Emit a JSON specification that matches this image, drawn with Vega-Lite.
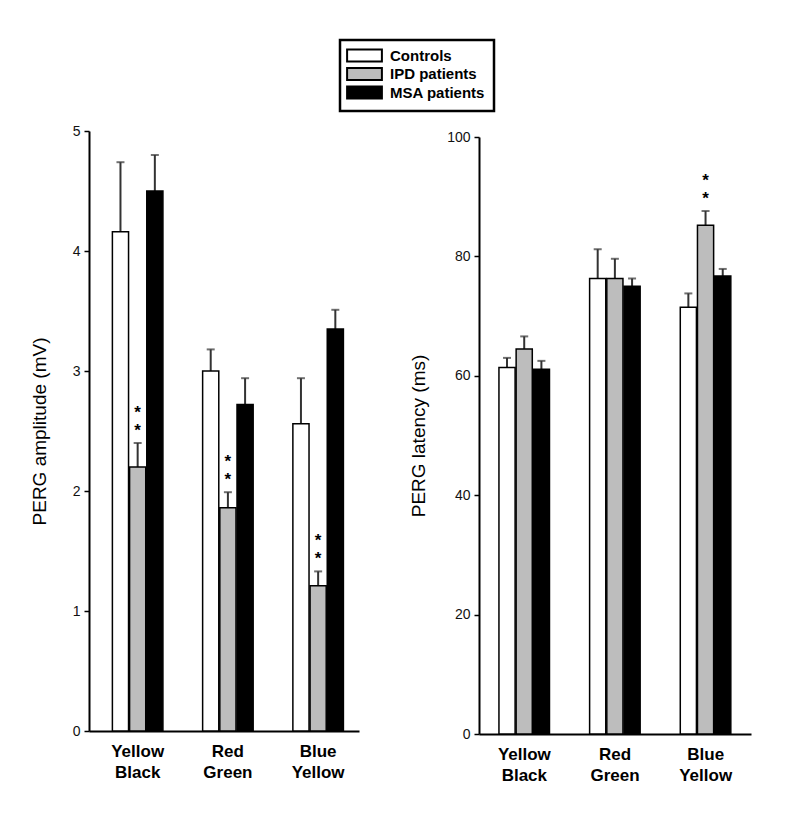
{
  "$schema": "https://vega.github.io/schema/vega-lite/v6.json",
  "padding": {"left": 30, "top": 38, "right": 10, "bottom": 10},
  "background": "white",
  "spacing": 50,
  "datasets": {
    "amp": [
      {"cond": "Yellow Black", "group": "Controls", "value": 4.16, "err": 4.74, "sig": ""},
      {"cond": "Yellow Black", "group": "IPD patients", "value": 2.2, "err": 2.4, "sig": "*"},
      {"cond": "Yellow Black", "group": "MSA patients", "value": 4.5, "err": 4.8, "sig": ""},
      {"cond": "Red Green", "group": "Controls", "value": 3.0, "err": 3.18, "sig": ""},
      {"cond": "Red Green", "group": "IPD patients", "value": 1.86, "err": 1.99, "sig": "*"},
      {"cond": "Red Green", "group": "MSA patients", "value": 2.72, "err": 2.94, "sig": ""},
      {"cond": "Blue Yellow", "group": "Controls", "value": 2.56, "err": 2.94, "sig": ""},
      {"cond": "Blue Yellow", "group": "IPD patients", "value": 1.21, "err": 1.33, "sig": "*"},
      {"cond": "Blue Yellow", "group": "MSA patients", "value": 3.35, "err": 3.51, "sig": ""}
    ],
    "lat": [
      {"cond": "Yellow Black", "group": "Controls", "value": 61.4, "err": 63.0, "sig": ""},
      {"cond": "Yellow Black", "group": "IPD patients", "value": 64.5, "err": 66.6, "sig": ""},
      {"cond": "Yellow Black", "group": "MSA patients", "value": 61.1, "err": 62.5, "sig": ""},
      {"cond": "Red Green", "group": "Controls", "value": 76.3, "err": 81.2, "sig": ""},
      {"cond": "Red Green", "group": "IPD patients", "value": 76.3, "err": 79.6, "sig": ""},
      {"cond": "Red Green", "group": "MSA patients", "value": 75.0, "err": 76.3, "sig": ""},
      {"cond": "Blue Yellow", "group": "Controls", "value": 71.5, "err": 73.8, "sig": ""},
      {"cond": "Blue Yellow", "group": "IPD patients", "value": 85.2, "err": 87.6, "sig": "*"},
      {"cond": "Blue Yellow", "group": "MSA patients", "value": 76.7, "err": 77.9, "sig": ""}
    ]
  },
  "config": {
    "font": "Liberation Sans",
    "view": {"stroke": null},
    "axis": {
      "grid": false,
      "domainColor": "black",
      "domainWidth": 2,
      "tickColor": "black",
      "tickWidth": 1.5,
      "tickSize": 5,
      "labelFont": "Liberation Sans",
      "labelColor": "#111",
      "titleFont": "Liberation Sans",
      "titleFontWeight": "normal",
      "titleColor": "black"
    },
    "legend": {"strokeWidth": 2.5}
  },
  "hconcat": [
    {
      "width": 270,
      "height": 600,
      "data": {"name": "amp"},
      "encoding": {
        "x": {
          "field": "cond", "type": "nominal",
          "sort": ["Yellow Black", "Red Green", "Blue Yellow"],
          "scale": {"paddingInner": 0.44, "paddingOuter": 0.216, "align": 0.6},
          "axis": {"title": null, "labelExpr": "split(datum.label, ' ')", "labelFontWeight": "bold", "labelFontSize": 17, "labelAngle": 0, "ticks": false, "labelPadding": 12, "labelLineHeight": 21, "labelColor": "black"}
        },
        "xOffset": {"field": "group", "type": "nominal", "sort": ["Controls", "IPD patients", "MSA patients"], "scale": {"paddingInner": 0.06}}
      },
      "layer": [
        {
          "mark": {"type": "rule", "color": "#333", "strokeWidth": 2},
          "encoding": {"y": {"field": "value", "type": "quantitative"}, "y2": {"field": "err"}}
        },
        {
          "mark": {"type": "bar", "stroke": "black", "strokeWidth": 1.5},
          "encoding": {
            "y": {"field": "value", "type": "quantitative", "scale": {"domain": [0, 5]},
              "axis": {"title": "PERG amplitude (mV)", "titleFontSize": 19, "titlePadding": 23, "labelFontSize": 14, "labelPadding": 4, "format": "d", "values": [0, 1, 2, 3, 4, 5]}},
            "color": {
              "field": "group", "type": "nominal",
              "scale": {"domain": ["Controls", "IPD patients", "MSA patients"], "range": ["white", "#bdbdbd", "black"]},
              "legend": {"title": null, "orient": "none", "legendX": 251, "legendY": -91, "direction": "vertical",
                "labelFontSize": 15, "labelFontWeight": "bold", "labelColor": "black", "labelFont": "Liberation Sans",
                "symbolType": "M-2.9,-1H2.9V1H-2.9Z", "symbolSize": 144, "symbolStrokeColor": "black", "symbolStrokeWidth": 2,
                "symbolOffset": 9,
                "strokeColor": "black", "fillColor": "white", "padding": 8, "rowPadding": -2.5, "labelOffset": 18}
            }
          }
        },
        {
          "mark": {"type": "tick", "color": "#333", "thickness": 2, "size": 8},
          "encoding": {"y": {"field": "err", "type": "quantitative"}}
        },
        {
          "transform": [{"filter": "datum.sig != ''"}],
          "mark": {"type": "text", "fontSize": 17, "fontWeight": "bold", "baseline": "middle", "dy": -12, "color": "black"},
          "encoding": {"y": {"field": "err", "type": "quantitative"}, "text": {"field": "sig"}}
        },
        {
          "transform": [{"filter": "datum.sig != ''"}],
          "mark": {"type": "text", "fontSize": 17, "fontWeight": "bold", "baseline": "middle", "dy": -30, "color": "black"},
          "encoding": {"y": {"field": "err", "type": "quantitative"}, "text": {"field": "sig"}}
        }
      ]
    },
    {
      "width": 272,
      "height": 603,
      "data": {"name": "lat"},
      "encoding": {
        "x": {
          "field": "cond", "type": "nominal",
          "sort": ["Yellow Black", "Red Green", "Blue Yellow"],
          "scale": {"paddingInner": 0.44, "paddingOuter": 0.22},
          "axis": {"title": null, "labelExpr": "split(datum.label, ' ')", "labelFontWeight": "bold", "labelFontSize": 17, "labelAngle": 0, "ticks": false, "labelPadding": 12, "labelLineHeight": 21, "labelColor": "black"}
        },
        "xOffset": {"field": "group", "type": "nominal", "sort": ["Controls", "IPD patients", "MSA patients"], "scale": {"paddingInner": 0.06}}
      },
      "layer": [
        {
          "mark": {"type": "rule", "color": "#333", "strokeWidth": 2},
          "encoding": {"y": {"field": "value", "type": "quantitative"}, "y2": {"field": "err"}}
        },
        {
          "mark": {"type": "bar", "stroke": "black", "strokeWidth": 1.5},
          "encoding": {
            "y": {"field": "value", "type": "quantitative", "scale": {"domain": [0, 100], "range": [603, 6]},
              "axis": {"title": "PERG latency (ms)", "titleFontSize": 19, "titlePadding": 18, "labelFontSize": 14, "labelPadding": 4, "format": "d", "values": [0, 20, 40, 60, 80, 100]}},
            "color": {"field": "group", "type": "nominal"}
          }
        },
        {
          "mark": {"type": "tick", "color": "#333", "thickness": 2, "size": 8},
          "encoding": {"y": {"field": "err", "type": "quantitative"}}
        },
        {
          "transform": [{"filter": "datum.sig != ''"}],
          "mark": {"type": "text", "fontSize": 17, "fontWeight": "bold", "baseline": "middle", "dy": -12, "color": "black"},
          "encoding": {"y": {"field": "err", "type": "quantitative"}, "text": {"field": "sig"}}
        },
        {
          "transform": [{"filter": "datum.sig != ''"}],
          "mark": {"type": "text", "fontSize": 17, "fontWeight": "bold", "baseline": "middle", "dy": -30, "color": "black"},
          "encoding": {"y": {"field": "err", "type": "quantitative"}, "text": {"field": "sig"}}
        }
      ]
    }
  ]
}
